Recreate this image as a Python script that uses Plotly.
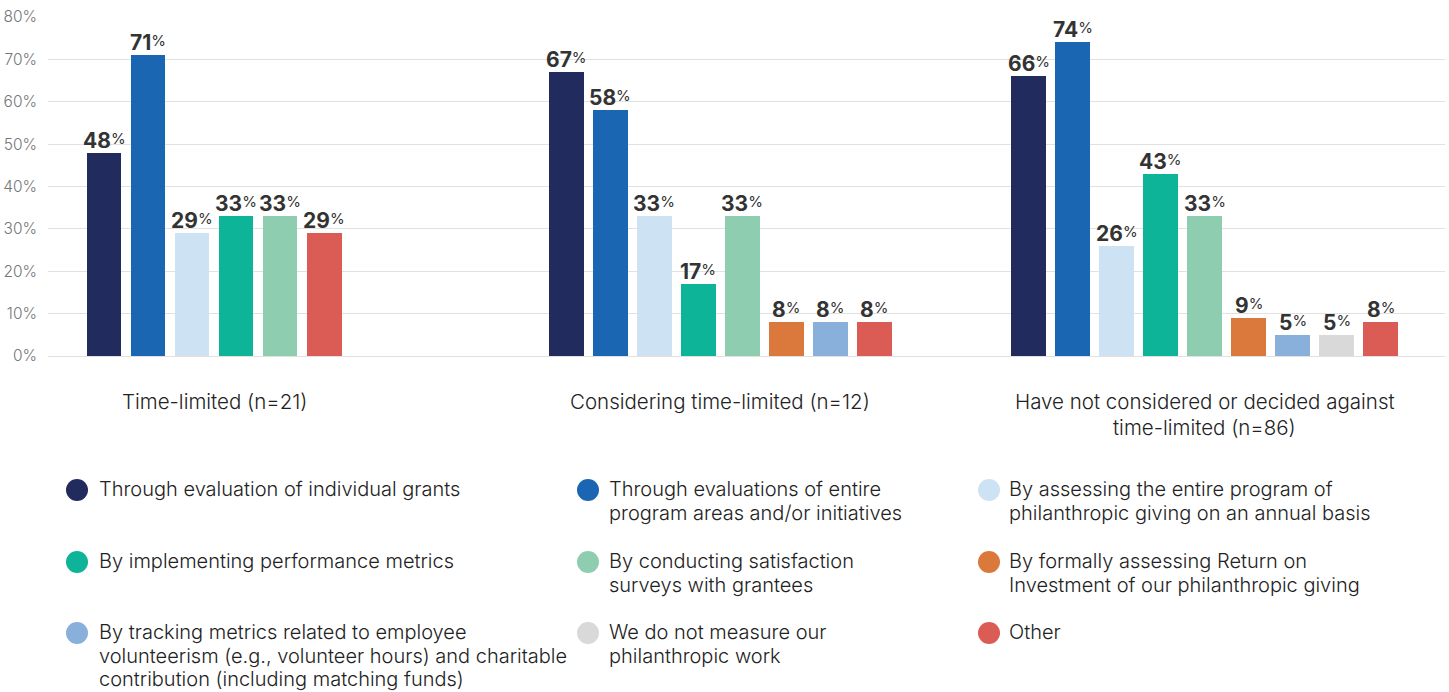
import plotly.graph_objects as go

# Respondent groups (x categories)
groups = [
    "Time-limited (n=21)",
    "Considering time-limited (n=12)",
    "Have not considered or decided against<br>time-limited (n=86)",
]

# Measurement approaches (series), in drawing order
series_names = [
    "Through evaluation of individual grants",
    "Through evaluations of entire<br>program areas and/or initiatives",
    "By assessing the entire program of<br>philanthropic giving on an annual basis",
    "By implementing performance metrics",
    "By conducting satisfaction<br>surveys with grantees",
    "By formally assessing Return on<br>Investment of our philanthropic giving",
    "By tracking metrics related to employee<br>volunteerism (e.g., volunteer hours) and charitable<br>contribution (including matching funds)",
    "We do not measure our<br>philanthropic work",
    "Other",
]
series_colors = [
    "#212B5E", "#1B66B2", "#CDE3F3", "#0DB497", "#8FCDB0",
    "#DB783B", "#88B0DB", "#D9D9D9", "#DB5B55",
]

# Percent values per series across the three groups (None = not reported)
v_individual = [48, 67, 66]
v_program_areas = [71, 58, 74]
v_annual = [29, 33, 26]
v_metrics = [33, 17, 43]
v_surveys = [33, 33, 33]
v_roi = [None, 8, 9]
v_volunteer = [None, 8, 5]
v_not_measure = [None, None, 5]
v_other = [29, 8, 8]
series_values = [v_individual, v_program_areas, v_annual, v_metrics, v_surveys,
                 v_roi, v_volunteer, v_not_measure, v_other]

# Legend layout: reading order across three columns
legend_order = [0, 1, 2, 3, 4, 5, 6, 7, 8]

FONT = "Inter, 'Open Sans', Arial, sans-serif"
GROUP_STEP = 10.5
BAR_W = 0.79

# Bars are packed within each group: only reported series take a slot
positions = [[None] * len(groups) for _ in series_names]
group_centers = []
for g in range(len(groups)):
    slot = 0
    used = []
    for s, vals in enumerate(series_values):
        if vals[g] is not None:
            positions[s][g] = g * GROUP_STEP + slot
            used.append(positions[s][g])
            slot += 1
    group_centers.append(sum(used) / len(used))

annotations = []
shapes = []

fig = go.Figure()
for s, vals in enumerate(series_values):
    xs = [positions[s][g] for g in range(len(groups)) if vals[g] is not None]
    ys = [vals[g] for g in range(len(groups)) if vals[g] is not None]
    fig.add_trace(go.Bar(
        x=xs, y=ys, width=BAR_W,
        marker=dict(color=series_colors[s], line=dict(width=0)),
        name=series_names[s].replace("<br>", " "),
        showlegend=False,
        hoverinfo="skip",
    ))
    # Value labels sitting just above each bar
    for x, v in zip(xs, ys):
        annotations.append(dict(
            x=x, xref="x", y=v, yref="y",
            text=f"<b>{v}</b><span style='font-size:15px;baseline-shift:4px'>%</span>",
            showarrow=False, xanchor="center", yanchor="bottom", yshift=-2,
            font=dict(family=FONT, size=21, color="#333333"),
        ))

W, H = 1449, 692
L, R, T, B = 48, 4, 17, 336
pw, ph = W - L - R, H - T - B


def px_x(px):
    return (px - L) / pw


def px_y(py):
    return (H - B - py) / ph


# Group labels under the axis, one annotation per line
CAT_LINE = 26
for g, name in enumerate(groups):
    for j, line in enumerate(name.split("<br>")):
        annotations.append(dict(
            x=group_centers[g], xref="x", y=px_y(402 + j * CAT_LINE), yref="paper",
            text=line, showarrow=False, xanchor="center", yanchor="middle",
            font=dict(family=FONT, size=20.5, color="#222222", weight=300),
        ))

# Custom three-column legend with round swatches
col_circle_x = [77, 588, 989]
col_text_x = [97, 607, 1007]
row_y = [490, 562, 633]
LEG_LINE = 23.5
r = 11
for i, s in enumerate(legend_order):
    row, col = divmod(i, 3)
    cx, cy = col_circle_x[col], row_y[row]
    shapes.append(dict(
        type="circle", xref="paper", yref="paper",
        x0=px_x(cx - r), x1=px_x(cx + r), y0=px_y(cy + r), y1=px_y(cy - r),
        fillcolor=series_colors[s], line=dict(width=0),
    ))
    for j, line in enumerate(series_names[s].split("<br>")):
        annotations.append(dict(
            x=px_x(col_text_x[col]), xref="paper",
            y=px_y(cy - 1 + j * LEG_LINE), yref="paper",
            text=line, showarrow=False, xanchor="left", yanchor="middle",
            font=dict(family=FONT, size=20, color="#222222", weight=300),
        ))

fig.update_layout(
    width=W, height=H,
    margin=dict(l=L, r=R, t=T, b=B),
    plot_bgcolor="white", paper_bgcolor="white",
    bargap=0, barmode="overlay",
    xaxis=dict(
        range=[-1.272, 30.46], showticklabels=False, showgrid=False,
        zeroline=False, showline=False, fixedrange=True,
    ),
    yaxis=dict(
        range=[0, 80], dtick=10, ticksuffix="%",
        showgrid=True, gridcolor="#E1E1E1", gridwidth=1,
        zeroline=True, zerolinecolor="#E1E1E1", zerolinewidth=1,
        showline=False, ticks="", ticklabelstandoff=10,
        tickfont=dict(family=FONT, size=15.5, color="#767676", weight=300),
        fixedrange=True,
    ),
    annotations=annotations,
    shapes=shapes,
    showlegend=False,
)

fig.write_html("out.html")
